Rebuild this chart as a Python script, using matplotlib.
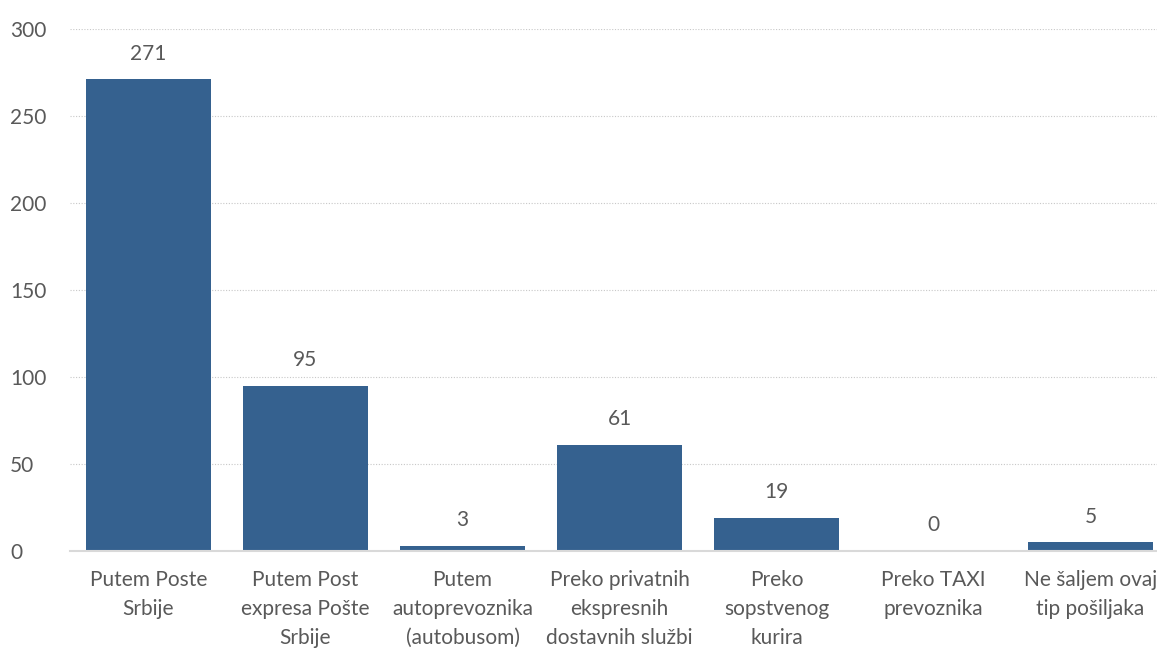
import matplotlib
matplotlib.use("Agg")
import matplotlib.pyplot as plt

plt.rcParams['font.family'] = ['Lato', 'DejaVu Sans']

categories = ["Putem Poste\nSrbije", "Putem Post\nexpresa Pošte\nSrbije", "Putem\nautoprevoznika\n(autobusom)",
              "Preko privatnih\nekspresnih\ndostavnih službi", "Preko\nsopstvenog\nkurira",
              "Preko TAXI\nprevoznika", "Ne šaljem ovaj\ntip pošiljaka"]
values = [271, 95, 3, 61, 19, 0, 5]

text_col = "#595959"
bar_col = "#35618f"

fig = plt.figure(figsize=(11.57, 6.53), dpi=100)
ax = fig.add_axes([70 / 1157, 102 / 653, 1099 / 1157, 522 / 653])

x = range(len(values))
bars = ax.bar(x, values, width=0.8, color=bar_col, zorder=3)
for xi, v in zip(x, values):
    ax.text(xi, v + 9, str(v), ha="center", va="bottom", fontsize=15, color=text_col)

ax.set_xlim(-0.5, len(values) - 0.5)
ax.set_ylim(0, 300)
ax.set_yticks(range(0, 301, 50))
ax.yaxis.grid(True, linestyle=(0, (1, 1.5)), color="#c8c8c8", linewidth=0.8, zorder=0)
ax.set_xticks(list(x))
ax.set_xticklabels(categories, linespacing=1.55)
ax.tick_params(axis="both", length=0, labelsize=15, colors=text_col)
ax.tick_params(axis="x", pad=14)
ax.tick_params(axis="y", pad=43)
for lab in ax.get_yticklabels():
    lab.set_horizontalalignment("left")
for s in ["top", "right", "left"]:
    ax.spines[s].set_visible(False)
ax.spines["bottom"].set_color("#d9d9d9")
ax.spines["bottom"].set_linewidth(1.5)
ax.spines["bottom"].set_zorder(4)

fig.savefig("out.png", dpi=100)
